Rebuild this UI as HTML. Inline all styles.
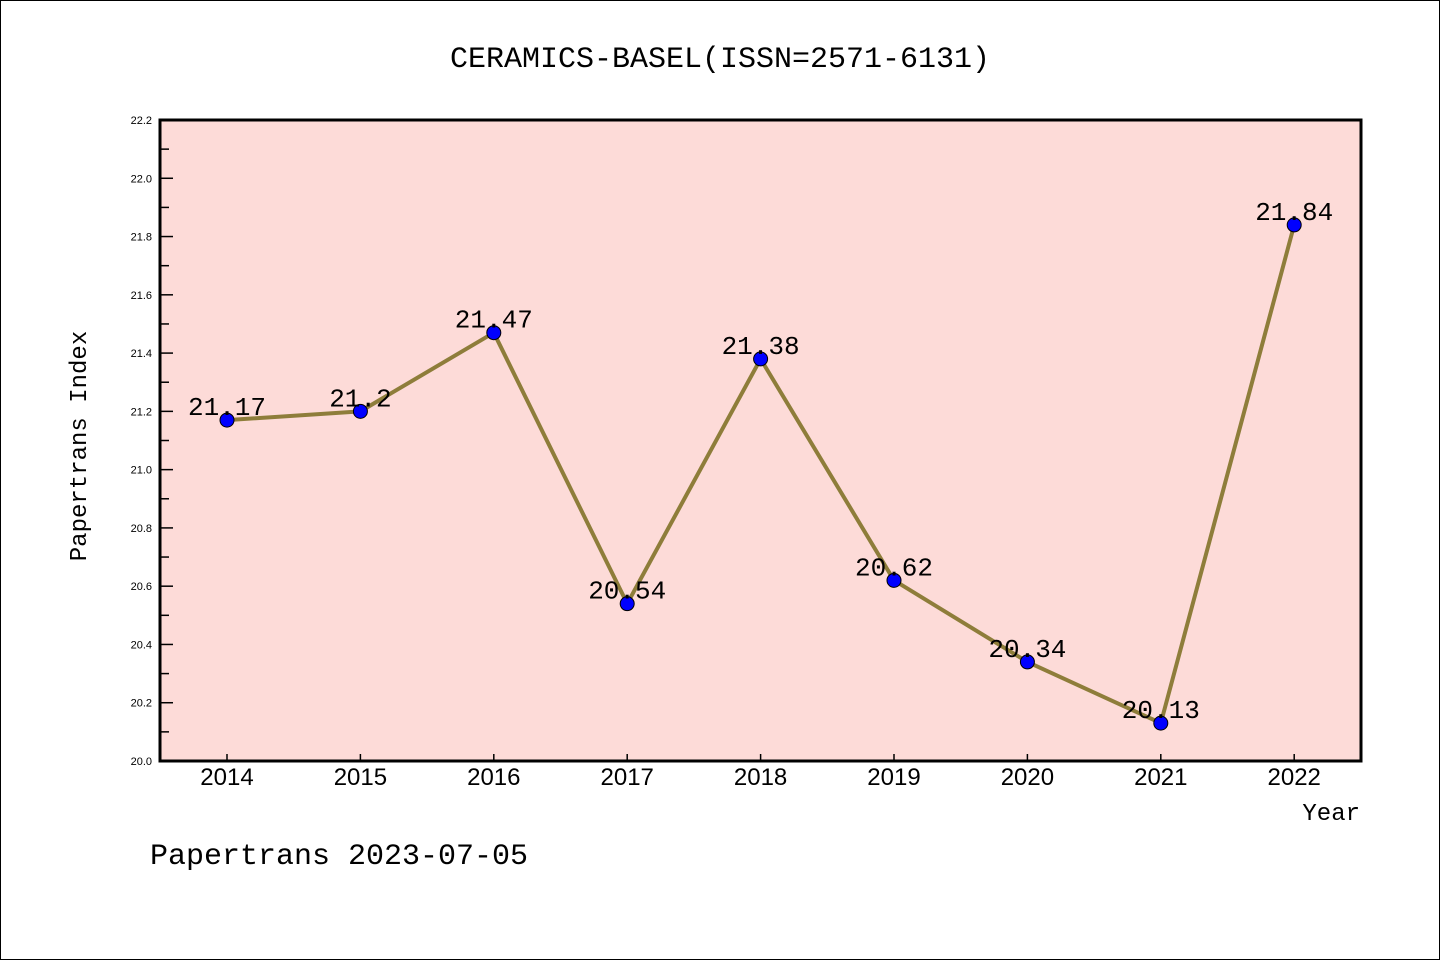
<!DOCTYPE html>
<html><head><meta charset="utf-8"><style>
body{margin:0;background:#fff}
svg{display:block;font-family:"Liberation Sans","DejaVu Sans",sans-serif}
.mono{font-family:"Liberation Mono","DejaVu Sans Mono",monospace}
</style></head><body>
<svg id="chart" width="1440" height="960">
<rect x="0.5" y="0.5" width="1439" height="959" fill="#fff" stroke="#000"/>
<text x="720" y="67" text-anchor="middle" font-size="30" class="mono">CERAMICS-BASEL(ISSN=2571-6131)</text>
<rect x="160" y="120" width="1201" height="641" fill="#fddbd8"/>
<g id="axes"></g>
<g id="series"></g>
<rect x="160" y="120" width="1201" height="641" fill="none" stroke="#000" stroke-width="3"/>
<text x="86" y="446" text-anchor="middle" font-size="24" class="mono" transform="rotate(-90 86 446)">Papertrans Index</text>
<text x="1360" y="820" text-anchor="end" font-size="24" class="mono">Year</text>
<text x="150" y="864" font-size="30" class="mono">Papertrans 2023-07-05</text>
</svg>
<script>
const years=["2014","2015","2016","2017","2018","2019","2020","2021","2022"];
const values=[21.17,21.2,21.47,20.54,21.38,20.62,20.34,20.13,21.84];
const labels=["21.17","21.2","21.47","20.54","21.38","20.62","20.34","20.13","21.84"];
const yTicks=["20.0","20.2","20.4","20.6","20.8","21.0","21.2","21.4","21.6","21.8","22.0","22.2"];
const NS="http://www.w3.org/2000/svg";
const yMin=20.0,yMax=22.2,yTop=120,yBot=761;
function ys(v){return yBot-(v-yMin)/(yMax-yMin)*(yBot-yTop);}
function xs(i){return 227+i*133.4;}
function mk(t,a,p){const e=document.createElementNS(NS,t);for(const k in a)e.setAttribute(k,a[k]);p.appendChild(e);return e;}
const ax=document.getElementById('axes'),sg=document.getElementById('series');
yTicks.forEach((t,i)=>{const v=parseFloat(t),y=ys(v);
 const l=mk('line',{x1:160,x2:173,y1:y,y2:y,stroke:'#000','stroke-width':1.5},ax);
 
 
 if(i<yTicks.length-1){const m=mk('line',{x1:160,x2:169,y1:ys(v+0.1),y2:ys(v+0.1),stroke:'#000','stroke-width':1.5},ax);
 
 }
 const tx=mk('text',{x:152,y:y+4,'text-anchor':'end','font-size':11},ax);tx.textContent=t;
 
 
});
years.forEach((yr,i)=>{const x=xs(i);
 const l=mk('line',{x1:x,x2:x,y1:761,y2:754,stroke:'#000','stroke-width':1.5},ax);
 
 
 const tx=mk('text',{x:x,y:785,'text-anchor':'middle','font-size':24},ax);tx.textContent=yr;
 
 
});
const pts=values.map((v,i)=>xs(i)+','+ys(v)).join(' ');
const pl=mk('polyline',{points:pts,fill:'none',stroke:'#8e7d3a','stroke-width':4,'stroke-linejoin':'round'},sg);


values.forEach((v,i)=>{
 const c=mk('circle',{cx:xs(i),cy:ys(v),r:7,fill:'#0000ff',stroke:'#000','stroke-width':1},sg);
 
 
 const t=mk('text',{x:xs(i),y:ys(v)-5,'text-anchor':'middle','font-size':26,class:'mono'},sg);t.textContent=labels[i];
 
 
});
</script>
</body></html>
